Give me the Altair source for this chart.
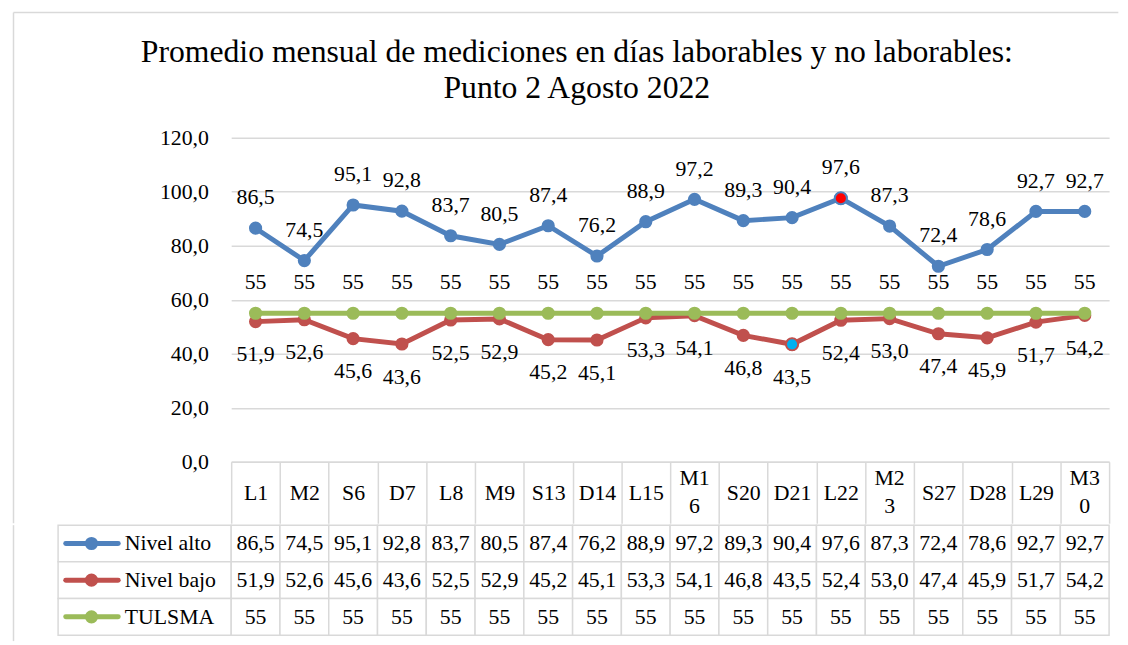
import altair as alt
import pandas as pd

# ---------------- data ----------------
days = ["L1", "M2", "S6", "D7", "L8", "M9", "S13", "D14", "L15", "M16",
        "S20", "D21", "L22", "M23", "S27", "D28", "L29", "M30"]
series_names = ["Nivel alto", "Nivel bajo", "TULSMA"]
nivel_alto = [86.5, 74.5, 95.1, 92.8, 83.7, 80.5, 87.4, 76.2, 88.9, 97.2,
              89.3, 90.4, 97.6, 87.3, 72.4, 78.6, 92.7, 92.7]
nivel_bajo = [51.9, 52.6, 45.6, 43.6, 52.5, 52.9, 45.2, 45.1, 53.3, 54.1,
              46.8, 43.5, 52.4, 53.0, 47.4, 45.9, 51.7, 54.2]
tulsma = [55, 55, 55, 55, 55, 55, 55, 55, 55, 55,
          55, 55, 55, 55, 55, 55, 55, 55]
y_ticks = [0, 20, 40, 60, 80, 100, 120]

# highlighted markers (series, day, fill colour)
highlight_series = ["Nivel alto", "Nivel bajo"]
highlight_days = ["L22", "D21"]
highlight_fill = ["#FF0000", "#00B0F0"]

title_lines = ["Promedio mensual de mediciones en días laborables y no laborables:",
               "Punto 2 Agosto 2022"]

# ---------------- styles ----------------
colors = ["#4F81BD", "#C0504D", "#9BBB59"]
label_dy = [-31, 33, -31]
FONT = "Liberation Serif"
FS = 22
GRID = "#D9D9D9"

records = []
for name, vals in zip(series_names, [nivel_alto, nivel_bajo, tulsma]):
    for d, v in zip(days, vals):
        hl = None
        for hs, hd, hf in zip(highlight_series, highlight_days, highlight_fill):
            if hs == name and hd == d:
                hl = hf
        records.append({"series": name, "day": d, "value": v, "hl": hl})
df = pd.DataFrame(records)
days_df = pd.DataFrame({"day": days})
frame_df = pd.DataFrame({"part": ["frame"]})

label_expr = ("datum.series == 'TULSMA' ? format(datum.value, 'd') : "
              "replace(format(datum.value, '.1f'), '.', ',')")
# header labels that Excel wraps onto two lines (too wide for their cell)
wrap_expr = "length(datum.day) == 3 && indexof(datum.day, 'M') == 0"

color_scale = alt.Scale(domain=series_names, range=colors)
band = alt.Scale(type="band", paddingInner=0, paddingOuter=0)

# ---------------- top (line) chart ----------------
x_axis = alt.Axis(
    title=None, labelAngle=0, labelOverlap=False, labelFlush=False,
    labelExpr=("length(datum.label) == 3 && indexof(datum.label, 'M') == 0 ? "
               "'' : datum.label"),
    labelBaseline="middle", labelPadding=-30.5,
    labelFont=FONT, labelFontSize=FS, labelColor="black",
    ticks=True, tickBand="extent", tickSize=62, tickColor=GRID, tickWidth=1.5,
    domainColor=GRID, domainWidth=1.5, grid=False,
)
y_axis = alt.Axis(
    title=None, values=y_ticks, domain=False, ticks=False, labelPadding=23,
    labelExpr="replace(format(datum.value, '.1f'), '.', ',')",
    labelFont=FONT, labelFontSize=FS, labelColor="black",
    gridColor=GRID, gridWidth=1.5,
)
x_top = alt.X("day:N", sort=days, bandPosition=0.5, scale=band, axis=x_axis)
y_top = alt.Y("value:Q", scale=alt.Scale(domain=[0, 120], nice=False), axis=y_axis)

base = alt.Chart(df).transform_calculate(label=label_expr)

layers = []
# outer chart frame (top and left edges, as in the Excel chart area)
frame = alt.Chart(frame_df)
layers.append(frame.mark_rule(color=GRID, strokeWidth=1.5).encode(
    x=alt.value(-219.7), x2=alt.value(895.3), y=alt.value(-126.4)))
layers.append(frame.mark_rule(color=GRID, strokeWidth=1.5).encode(
    x=alt.value(-219.7), y=alt.value(-126.4), y2=alt.value(389)))

for i, name in enumerate(series_names):
    b = base.transform_filter(alt.datum.series == name)
    layers.append(b.mark_line(color=colors[i], strokeWidth=5).encode(x=x_top, y=y_top))
    layers.append(b.mark_point(filled=True, shape="circle", size=177, color=colors[i],
                               opacity=1).encode(x=x_top, y=y_top))
hl_layer = base.transform_filter("datum.hl != null").mark_point(
    filled=True, shape="circle", size=150, strokeWidth=2, opacity=1
).encode(
    x=x_top, y=y_top,
    fill=alt.Fill("hl:N", scale=None),
    stroke=alt.Stroke("series:N", scale=color_scale, legend=None),
)
layers.append(hl_layer)
for i, name in enumerate(series_names):
    b = base.transform_filter(alt.datum.series == name)
    layers.append(b.mark_text(dy=label_dy[i], font=FONT, fontSize=FS, color="black").encode(
        x=x_top, y=y_top, text="label:N"))

# wrapped header labels (two lines inside the header cell)
wrapped = alt.Chart(days_df).transform_filter(wrap_expr).transform_calculate(
    hdr="slice(datum.day, 0, 2) + '|' + slice(datum.day, 2)"
).mark_text(lineBreak="|", lineHeight=28, baseline="middle", font=FONT,
            fontSize=FS, color="black").encode(
    x=x_top, y=alt.value(327 + 16.5), text="hdr:N")
layers.append(wrapped)

top = alt.layer(*layers).properties(width=886, height=327)

# ---------------- data table ----------------
y_rows_axis = alt.Axis(title=None, domain=False, ticks=False, labelAlign="left",
                       labelPadding=108, labelLimit=300, labelBaseline="middle",
                       labelFont=FONT, labelFontSize=FS, labelColor="black")
x_rows = alt.X("day:N", sort=days, scale=band, axis=None)
x_rows_c = alt.X("day:N", sort=days, scale=band, axis=None, bandPosition=0.5)
y_rows = alt.Y("series:N", sort=series_names, scale=band, axis=y_rows_axis)
y_rows_c = alt.Y("series:N", sort=series_names, scale=band, axis=y_rows_axis, bandPosition=0.5)

rbase = alt.Chart(df).transform_calculate(label=label_expr)
cells = rbase.mark_rect(fill="white", stroke=GRID, strokeWidth=1.5).encode(x=x_rows, y=y_rows)
vals = rbase.mark_text(font=FONT, fontSize=FS, color="black").encode(
    x=x_rows_c, y=y_rows_c, text="label:N")

legend_df = pd.DataFrame({"series": series_names})
lbase = alt.Chart(legend_df)
leg_cells = lbase.mark_rect(fill="white", stroke=GRID, strokeWidth=1.5).encode(
    x=alt.value(-174.7), x2=alt.value(0), y=y_rows)
leg_line = lbase.mark_rule(strokeWidth=5, strokeCap="round").encode(
    x=alt.value(-167), x2=alt.value(-114), y=y_rows_c,
    color=alt.Color("series:N", scale=color_scale, legend=None))
leg_dot = lbase.mark_point(filled=True, shape="circle", size=177, opacity=1).encode(
    x=alt.value(-141), y=y_rows_c,
    color=alt.Color("series:N", scale=color_scale, legend=None))
frame_low = alt.Chart(frame_df).mark_rule(color=GRID, strokeWidth=1.5).encode(
    x=alt.value(-219.7), y=alt.value(0), y2=alt.value(117))

table = alt.layer(frame_low, leg_cells, cells, vals, leg_line, leg_dot).properties(
    width=886, height=111)

chart = alt.vconcat(top, table, spacing=0).properties(
    title=alt.Title(text=title_lines, font="Liberation Serif", fontSize=32,
                    fontWeight="normal", color="black", lineHeight=36,
                    anchor="middle", offset=-94, dx=11),
    padding={"left": 4.25, "top": 0, "right": 0, "bottom": 0},
).configure_view(stroke=None)

chart.save("out.html", embed_options={"renderer": "svg", "actions": False})
